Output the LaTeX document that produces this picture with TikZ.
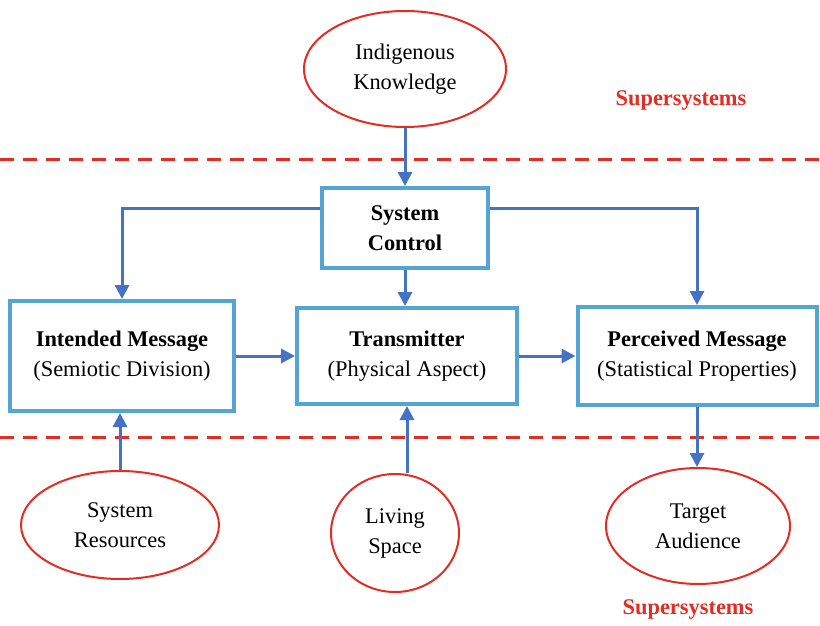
\documentclass[tikz,border=0pt]{standalone}
\usepackage{fontspec}
\setmainfont{Liberation Serif}
\usepackage{xcolor}
\definecolor{Col1}{RGB}{84,164,212}
\definecolor{Col2}{RGB}{68,114,196}
\definecolor{Col3}{RGB}{226,44,36}
\usepackage{tikz}
\usetikzlibrary{shapes}
\usetikzlibrary{arrows.meta}
\tikzstyle{Box}=[rectangle,draw=Col1,line width=2pt,fill=white,align=center,
font=\fontsize{11.2}{15}\selectfont]
\tikzstyle{Oval}=[ellipse,draw=Col3,line width=1pt,fill=white,align=center,
inner sep=0pt,font=\fontsize{11.2}{15}\selectfont]
\tikzstyle{Edge}=[draw=Col2,line width=1.5pt,
-{Triangle[length=7pt,width=7pt]}]
\tikzstyle{Dash}=[draw=Col3,line width=1.5pt,dash pattern=on 7pt off 4.5pt]
\tikzstyle{NodeSup}=[text=Col3,font=\fontsize{11.2}{13}\selectfont\bfseries]

\begin{document}
\begin{tikzpicture}[x=0.5pt,y=-0.5pt]
        \useasboundingbox (0,0) rectangle (820,626);
        \draw[Dash](0,160)--(820,160);
        \draw[Dash](0,437)--(820,437);
        \node[Oval,minimum width=101pt,minimum height=58pt](IK)at(405,69){Indigenous\\Knowledge};
        \node[Box,minimum width=83pt,minimum height=40pt](SC)at(405,228){\textbf{System}\\\textbf{Control}};
        \node[Box,minimum width=112pt,minimum height=55pt](IM)at(122,356){\textbf{Intended Message}\\(Semiotic Division)};
        \node[Box,minimum width=110pt,minimum height=48pt](TR)at(407,356){\textbf{Transmitter}\\(Physical Aspect)};
        \node[Box,minimum width=119.5pt,minimum height=49pt](PM)at(697,356){\textbf{Perceived Message}\\(Statistical Properties)};
        \node[Oval,minimum width=99pt,minimum height=54pt](SR)at(120,525){System\\Resources};
        \node[Oval,minimum width=64pt,minimum height=59pt](LS)at(395,533){Living\\Space};
        \node[Oval,minimum width=92pt,minimum height=58pt](TA)at(698,526){Target\\Audience};
        \node[NodeSup](S1)at(681,101){Supersystems};
        \node[NodeSup](S2)at(688,609){Supersystems};
        \draw[Edge](IK.south)--(SC.north);
        \draw[Edge]([yshift=9.5pt]SC.west)-|(IM.north);
        \draw[Edge]([yshift=9.5pt]SC.east)-|(PM.north);
        \draw[Edge](SC.south)--(SC.south|-TR.north);
        \draw[Edge](IM.east)--(TR.west|-IM.east);
        \draw[Edge](TR.east)--(PM.west|-TR.east);
        \draw[Edge](SR.north)--(SR.north|-IM.south);
        \draw[Edge](LS.north-|TR.south)--(TR.south);
        \draw[Edge](PM.south)--(PM.south|-TA.north);
    \end{tikzpicture}
\end{document}
